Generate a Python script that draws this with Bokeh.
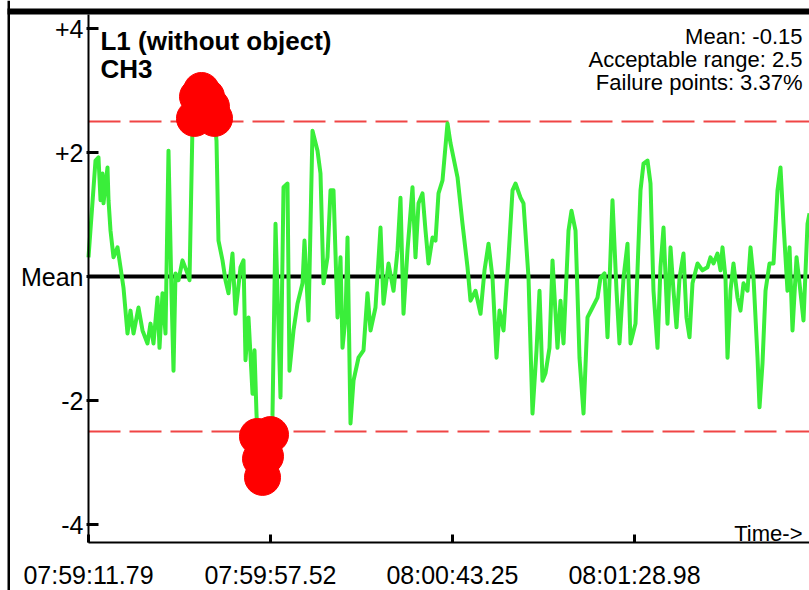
from bokeh.plotting import figure
from bokeh.models import Label, FixedTicker, ColumnDataSource, BoxAnnotation
from bokeh.embed import file_html
from bokeh.resources import INLINE

# ---- data (seconds since 07:59:11.79, deviation from mean) ----
times = [0.0, 1.76, 2.51, 3.02, 3.52, 3.77, 4.77, 5.03, 5.53, 6.28, 7.29, 8.04, 8.79, 9.80,
         10.55, 11.31, 12.56, 13.57, 14.82, 15.58, 16.33, 17.34, 17.84, 18.59, 19.35, 20.10,
         20.85, 21.36, 21.86, 22.61, 23.62, 24.88, 25.38, 26.13, 26.63, 27.39, 28.39, 29.65,
         30.90, 31.66, 32.16, 32.66, 33.67, 34.42, 35.18, 36.18, 36.94, 38.19, 38.95, 39.45,
         40.20, 41.21, 41.71, 42.21, 42.46, 43.22, 43.72, 44.47, 45.73, 46.23, 46.99, 48.24,
         49.00, 50.00, 50.50, 51.51, 52.51, 53.77, 54.27, 55.28, 56.28, 57.54, 58.29, 59.05,
         60.05, 60.81, 61.56, 62.57, 63.32, 63.82, 64.58, 65.08, 65.83, 66.59, 67.84, 69.10,
         70.10, 70.86, 72.11, 73.37, 74.12, 75.38, 76.64, 77.64, 78.39, 79.15, 80.15, 81.41,
         82.16, 82.92, 83.92, 84.68, 85.43, 86.44, 87.19, 87.94, 88.95, 90.20, 90.96, 92.72,
         93.97, 95.23, 95.98, 97.24, 98.50, 99.50, 100.51, 101.51, 102.52, 103.27, 104.28,
         105.53, 106.54, 107.29, 108.55, 109.30, 110.56, 111.56, 112.57, 113.32, 114.07,
         114.83, 115.83, 116.59, 117.84, 118.60, 119.35, 120.61, 121.36, 122.37, 123.37,
         124.38, 125.38, 126.64, 127.89, 128.65, 129.65, 130.41, 131.66, 132.67, 133.42,
         134.43, 135.43, 136.19, 137.44, 138.70, 139.45, 140.46, 141.21, 141.96, 142.97,
         143.72, 144.48, 145.48, 146.24, 146.99, 147.74, 148.50, 149.50, 150.25, 151.01,
         151.76, 153.02, 154.27, 155.53, 156.28, 157.04, 158.04, 158.80, 159.30, 160.05,
         160.56, 161.31, 162.06, 163.07, 163.82, 164.58, 165.58, 166.34, 167.09, 168.10,
         168.60, 169.35, 170.11, 171.11, 172.12, 173.12, 173.87, 174.63, 175.63, 176.14,
         176.89, 177.90, 178.65, 179.65, 180.66, 181.16]
values = [0.31, 1.87, 1.92, 1.23, 1.66, 1.18, 1.76, 1.23, 0.74, 0.31, 0.47, 0.15, -0.18, -0.92,
          -0.55, -0.92, -0.50, -0.87, -1.08, -0.76, -1.08, -0.34, -1.15, -0.27, -0.92, 2.03,
          -0.27, -1.52, 0.05, -0.06, 0.26, 0.05, -0.06, 2.44, 2.55, 2.90, 3.00, 2.90,
          2.74, 2.55, 2.19, 0.58, 0.26, -0.06, -0.27, 0.37, -0.60, 0.15, 0.26, -1.35,
          -0.66, -1.89, -1.19, -2.21, -2.58, -2.94, -3.24, -2.90, -2.55, -2.24, 0.85, -1.95,
          1.44, 1.50, -1.52, -0.87, -0.44, -0.11, 0.58, -0.71, 2.35, 2.03, 1.66, -0.11,
          0.31, 1.39, 1.39, -0.66, 0.31, -1.15, -0.66, 0.63, -2.37, -1.68, -1.31, -1.19,
          -0.27, -0.87, -0.50, 0.79, -0.44, 0.21, -0.23, 0.42, 1.27, -0.60, 0.42, 1.44,
          0.31, 1.18, 1.34, 0.74, 0.21, 0.63, 0.58, 1.34, 1.55, 2.47, 2.15, 1.60,
          0.85, 0.15, -0.39, -0.23, -0.60, 0.10, 0.53, -0.02, -1.31, -0.55, -0.87,
          0.31, 1.39, 1.50, 1.27, 1.18, -0.02, -2.21, -1.19, -0.23, -1.68,
          -1.56, -1.15, 0.26, -1.15, -0.39, -1.08, 0.74, 1.06, 0.74, -1.31,
          -2.21, -0.66, -0.50, -0.34, -0.02, 0.05, -0.98, 1.23, -0.23, -1.08,
          -0.02, 0.53, -1.08, -0.76, 1.39, 1.82, 1.87, 1.50, -0.23, -1.15,
          0.15, 0.79, -0.76, 0.47, -0.23, -0.82, -0.02, 0.37, -0.66, -0.98,
          -0.11, 0.21, 0.10, 0.15, 0.31, 0.21, 0.37, 0.10, 0.47, -0.02,
          -1.31, -0.23, 0.21, -0.34, -0.55, -0.11, -0.23, 0.47, -0.02, -1.31,
          -2.11, -1.40, -0.23, 0.21, 0.21, 1.39, 1.76, 0.85, -0.23, 0.47,
          -0.87, 0.31, -0.11, -0.71, 0.85, 1.02]

acceptable_range = 2.5
x_tick_values = [0.0, 45.73, 91.46, 137.19]
x_tick_labels = ["07:59:11.79", "07:59:57.52", "08:00:43.25", "08:01:28.98"]
y_tick_values = [4, 2, 0, -2, -4]
y_tick_labels = ["+4", "+2", "Mean", "-2", "-4"]
title_lines = ["L1 (without object)", "CH3"]
stats_lines = ["Mean: -0.15", "Acceptable range: 2.5", "Failure points: 3.37%"]
axis_note = "Time->"

FONT = "Liberation Sans"
GREEN = "#3aee3a"

# plotting area (data units); the frame covers the whole canvas and
# the axes are pinned at the plot's origin so the outer picture edges can be drawn
X0, X1 = 0.0, 181.16          # time span shown
Y0, Y1 = -4.29, 4.226         # value span shown
PX_PER_S, PX_PER_V = 3.9799, 62.0

fail_t = [t for t, v in zip(times, values) if abs(v) > acceptable_range]
fail_v = [v for v in values if abs(v) > acceptable_range]

p = figure(width=809, height=590,
           x_range=(X0 - 88 / PX_PER_S, X1),
           y_range=(Y0 - 48 / PX_PER_V, Y1 + 14 / PX_PER_V),
           output_backend="svg", toolbar_location=None,
           min_border=0, min_border_left=0, min_border_right=0,
           min_border_top=0, min_border_bottom=0)
p.title.visible = False
p.outline_line_color = None
p.grid.visible = False
p.background_fill_color = "white"
p.border_fill_color = "white"

# black edges of the original picture
p.add_layout(BoxAnnotation(left=X0 - 81 / PX_PER_S, bottom=Y1, top=Y1 + 6 / PX_PER_V,
                           fill_color="black", fill_alpha=1.0, line_color=None))
p.add_layout(BoxAnnotation(left=X0 - 81 / PX_PER_S, right=X0 - 78.5 / PX_PER_S,
                           fill_color="black", fill_alpha=1.0, line_color=None))

# x axis
xa = p.xaxis[0]
xa.fixed_location = Y0
xa.bounds = (X0, X1)
xa.ticker = FixedTicker(ticks=x_tick_values)
xa.major_label_overrides = {v: s for v, s in zip(x_tick_values, x_tick_labels)}
xa.minor_tick_line_color = None
xa.major_tick_in = 8
xa.major_tick_out = 0
xa.major_tick_line_width = 3
xa.axis_line_width = 2
xa.major_label_standoff = 19
xa.major_label_text_font = FONT
xa.major_label_text_font_size = "25px"
xa.major_label_text_color = "black"

# y axis
ya = p.yaxis[0]
ya.fixed_location = X0
ya.bounds = (Y0, Y1)
ya.ticker = FixedTicker(ticks=y_tick_values)
ya.major_label_overrides = {v: s for v, s in zip(y_tick_values, y_tick_labels)}
ya.minor_tick_line_color = None
ya.major_tick_in = 10
ya.major_tick_out = 2
ya.major_tick_line_width = 3
ya.axis_line_width = 2
ya.major_label_standoff = 3
ya.major_label_text_font = FONT
ya.major_label_text_font_size = "25px"
ya.major_label_text_color = "black"

# mean line and acceptable-range limits
p.line([X0, X1], [0, 0], line_color="black", line_width=4)
for loc in (acceptable_range, -acceptable_range):
    p.line([X0, X1], [loc, loc], line_color="#f04545", line_width=2, line_dash="32 9")

src = ColumnDataSource(dict(t=times, v=values))
p.line("t", "v", source=src, line_color=GREEN, line_width=4, line_join="round")
p.scatter(fail_t, fail_v, size=36, color="#ff0000", line_color="#ff0000")

# texts
p.add_layout(Label(x=3.0, y=3.806, text=title_lines[0], text_font=FONT, text_font_size="26px",
                   text_font_style="bold", text_baseline="alphabetic", text_color="black"))
p.add_layout(Label(x=3.0, y=3.35, text=title_lines[1], text_font=FONT, text_font_size="26px",
                   text_font_style="bold", text_baseline="alphabetic", text_color="black"))
for txt, yy in zip(stats_lines, (3.87, 3.50, 3.13)):
    p.add_layout(Label(x=179.4, y=yy, text=txt, text_font=FONT, text_font_size="22px",
                       text_align="right", text_baseline="alphabetic", text_color="black"))
p.add_layout(Label(x=179.4, y=-4.145, text=axis_note, text_font=FONT, text_font_size="22px",
                   text_align="right", text_baseline="alphabetic", text_color="black"))

open("out.html", "w").write(file_html(p, INLINE))
